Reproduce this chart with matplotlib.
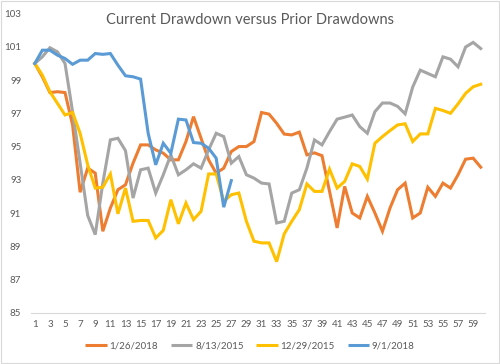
import matplotlib
matplotlib.use('Agg')
import matplotlib.pyplot as plt
from matplotlib.patches import Rectangle

plt.rcParams['font.family'] = ['Lato', 'DejaVu Sans']

# drawdown paths, indexed to 100 on day 1
days = list(range(1, 61))
jan_2018 = [100.0, 99.2, 98.25, 98.3, 98.25, 96.3, 92.25, 93.7, 93.4, 89.9,
            91.3, 92.4, 92.7, 94.0, 95.1, 95.1, 94.8, 94.6, 94.2, 94.2,
            95.3, 96.8, 95.5, 94.2, 93.4, 93.7, 94.7, 95.0, 95.0, 95.3,
            97.05, 96.95, 96.4, 95.75, 95.7, 95.87, 94.5, 94.62, 94.45, 92.3,
            90.1, 92.6, 91.0, 90.7, 92.0, 91.0, 89.9, 91.3, 92.4, 92.8,
            90.7, 91.0, 92.55, 92.0, 92.8, 92.5, 93.3, 94.24, 94.3, 93.76]
aug_2015 = [100.0, 100.4, 100.95, 100.7, 100.0, 97.1, 94.0, 90.85, 89.7, 92.8,
            95.4, 95.5, 94.75, 91.9, 93.6, 93.7, 92.2, 93.3, 94.5, 93.3,
            93.6, 93.96, 93.7, 94.8, 95.8, 95.6, 94.0, 94.4, 93.3, 93.1,
            92.8, 92.75, 90.4, 90.5, 92.2, 92.4, 93.7, 95.4, 95.1, 95.9,
            96.65, 96.77, 96.9, 96.2, 95.8, 97.1, 97.62, 97.62, 97.42, 96.97,
            98.58, 99.6, 99.4, 99.2, 100.4, 100.26, 99.8, 100.99, 101.27, 100.9]
dec_2015 = [100.0, 99.3, 98.3, 97.6, 96.9, 97.05, 95.8, 93.9, 92.5, 92.55,
            93.35, 90.95, 92.5, 90.5, 90.55, 90.55, 89.5, 89.95, 91.8, 90.35,
            91.6, 90.6, 91.1, 93.35, 93.35, 91.7, 92.1, 92.2, 90.5, 89.3,
            89.2, 89.2, 88.07, 89.74, 90.5, 91.2, 92.75, 92.3, 92.3, 93.64,
            92.5, 92.9, 93.96, 93.8, 93.04, 95.2, 95.6, 95.96, 96.3, 96.37,
            95.3, 95.76, 95.76, 97.3, 97.17, 97.0, 97.57, 98.2, 98.6, 98.75]
sep_2018 = [100.0, 100.8, 100.8, 100.5, 100.3, 99.95, 100.2, 100.2, 100.6, 100.55,
            100.6, 99.9, 99.26, 99.2, 99.06, 95.8, 93.9, 95.2, 94.6, 96.65,
            96.6, 95.24, 95.2, 94.9, 94.3, 91.35, 92.95]

series = [('1/26/2018', jan_2018, '#ED7D31'),
          ('8/13/2015', aug_2015, '#A5A5A5'),
          ('12/29/2015', dec_2015, '#FFC000'),
          ('9/1/2018', sep_2018, '#5B9BD5')]

fig = plt.figure(figsize=(5, 3.64), dpi=100)
ax = fig.add_axes([0.062, 0.141, 0.907, 0.8215])

for name, vals, col in series:
    ax.plot(days[:len(vals)], vals, color=col, lw=2.2, label=name,
            solid_joinstyle='miter')

ax.set_xlim(0.5, 60.5)
ax.set_ylim(85, 103)
ax.set_xticks(range(1, 60, 2))
ax.set_yticks(range(85, 104, 2))
ax.tick_params(length=0, labelsize=7, colors='#595959')
ax.tick_params(axis='x', pad=5)
ax.tick_params(axis='y', pad=7)
for s in ['top', 'right', 'left']:
    ax.spines[s].set_visible(False)
ax.spines['bottom'].set_color('#d9d9d9')
ax.spines['bottom'].set_linewidth(0.8)

fig.suptitle('Current Drawdown versus Prior Drawdowns', y=0.965, fontsize=10.5,
             color='#595959')

leg = ax.legend(loc='center', bbox_to_anchor=(0.5, 0.05), bbox_transform=fig.transFigure,
                ncol=4, frameon=False, fontsize=7, labelcolor='#595959',
                handlelength=2.2, handletextpad=0.3, columnspacing=1.3)
for ln in leg.get_lines():
    ln.set_solid_capstyle('butt')

fig.patches.append(Rectangle((0.002, 0.003), 0.995, 0.994, transform=fig.transFigure,
                             fill=False, edgecolor='#d9d9d9', lw=0.8))

fig.savefig('out.png', dpi=100)
